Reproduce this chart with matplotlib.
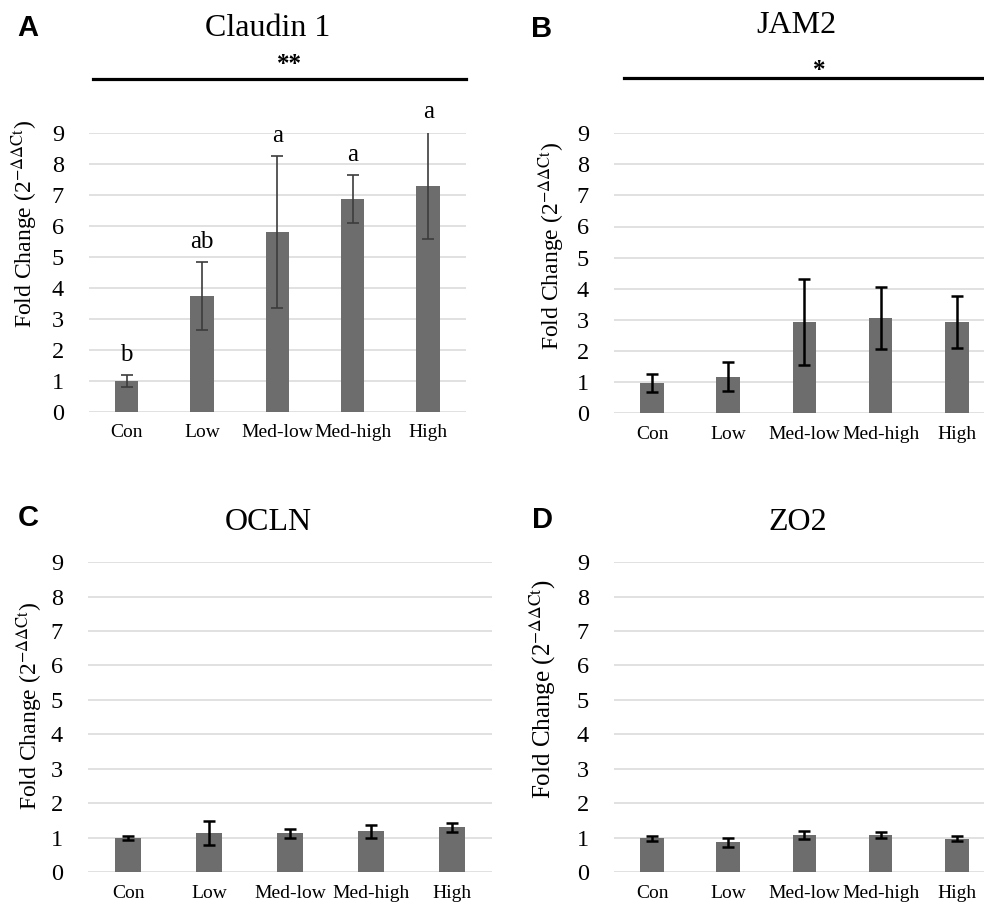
import numpy as np
import matplotlib
matplotlib.use("Agg")
import matplotlib.pyplot as plt

plt.rcParams['font.family'] = ['Liberation Serif', 'DejaVu Serif']
plt.rcParams['mathtext.fontset'] = 'stix'

# data
groups = ['Con', 'Low', 'Med-low', 'Med-high', 'High']

cldn1_mean = [1.0, 3.73, 5.8, 6.86, 7.3]
cldn1_err = [0.18, 1.1, 2.45, 0.78, 1.72]
cldn1_letters = ['b', 'ab', 'a', 'a', 'a']

jam2_mean = [0.97, 1.17, 2.93, 3.06, 2.93]
jam2_err = [0.3, 0.47, 1.37, 1.0, 0.85]

ocln_mean = [0.99, 1.13, 1.13, 1.18, 1.3]
ocln_err = [0.06, 0.35, 0.13, 0.2, 0.13]

zo2_mean = [0.98, 0.87, 1.08, 1.08, 0.97]
zo2_err = [0.07, 0.13, 0.11, 0.08, 0.07]

bar_col = '#6d6d6d'
grid_col = '#d9d9d9'
ylab = r'Fold Change (2$^{\mathrm{-\Delta\Delta Ct}}$)'

fig = plt.figure(figsize=(9.84, 9.06), dpi=100)

# axes boxes in figure fractions
axA = fig.add_axes([0.0904, 0.5453, 0.383, 0.308])
axB = fig.add_axes([0.624, 0.544, 0.387, 0.309])
axC = fig.add_axes([0.0894, 0.0375, 0.4106, 0.342])
axD = fig.add_axes([0.624, 0.0375, 0.387, 0.342])


def panel(ax, mean, err, title, title_xy, lab_xy, ecol, elw, width=0.31, labsize=17):
    x = np.arange(len(groups))
    ax.bar(x, mean, width=width, color=bar_col, zorder=2)
    ax.errorbar(x, mean, yerr=err, fmt='none', ecolor=ecol, elinewidth=elw,
                capsize=4.5, capthick=elw, zorder=3)
    ax.set_xlim(-0.5, len(groups) - 0.5)
    ax.set_ylim(0, 9)
    ax.set_yticks(range(10))
    ax.set_xticks(x)
    ax.set_xticklabels(groups, fontsize=14)
    ax.tick_params(axis='y', labelsize=17.5, length=0, pad=18)
    ax.tick_params(axis='x', length=0, pad=9)
    ax.grid(axis='y', color=grid_col, linewidth=1.1, zorder=0)
    ax.set_axisbelow(True)
    for s in ax.spines.values():
        s.set_visible(False)
    ax.set_title(title, fontsize=23, x=title_xy[0], y=title_xy[1], va='center', pad=0)
    ax.set_ylabel(ylab, fontsize=labsize, va='center')
    ax.yaxis.set_label_coords(*lab_xy)


panel(axA, cldn1_mean, cldn1_err, 'Claudin 1', (0.475, 1.375), (-0.17, 0.674), '#3c3c3c', 1.2)
panel(axB, jam2_mean, jam2_err, 'JAM2', (0.478, 1.385), (-0.163, 0.596), 'black', 1.8)
panel(axC, ocln_mean, ocln_err, 'OCLN', (0.446, 1.128), (-0.144, 0.535), 'black', 1.8, width=0.32)
panel(axD, zo2_mean, zo2_err, 'ZO2', (0.483, 1.128), (-0.186, 0.59), 'black', 1.8, labsize=18)

# letters above Claudin 1 bars
for i, (m, e, t) in enumerate(zip(cldn1_mean, cldn1_err, cldn1_letters)):
    axA.text(i, m + e + 0.45, t, ha='center', va='baseline', fontsize=18,
             clip_on=False)

# significance bars
axA.plot([0.01, 1.0], [1.194, 1.194], transform=axA.transAxes, color='black',
         lw=2.3, clip_on=False)
axA.text(0.533, 1.245, '**', transform=axA.transAxes, ha='center', va='center',
         fontsize=18, fontweight='bold')
axB.plot([0.026, 1.0], [1.196, 1.196], transform=axB.transAxes, color='black',
         lw=2.3, clip_on=False)
axB.text(0.538, 1.225, '*', transform=axB.transAxes, ha='center', va='center',
         fontsize=18, fontweight='bold')

# panel letters
for lbl, px, py in [('A', 28, 28), ('B', 542, 29), ('C', 28, 518), ('D', 542, 520)]:
    fig.text(px / 984, 1 - py / 906, lbl, ha='center', va='center', fontsize=21,
             fontweight='bold', family='Liberation Sans')

fig.savefig('out.png', dpi=100)
